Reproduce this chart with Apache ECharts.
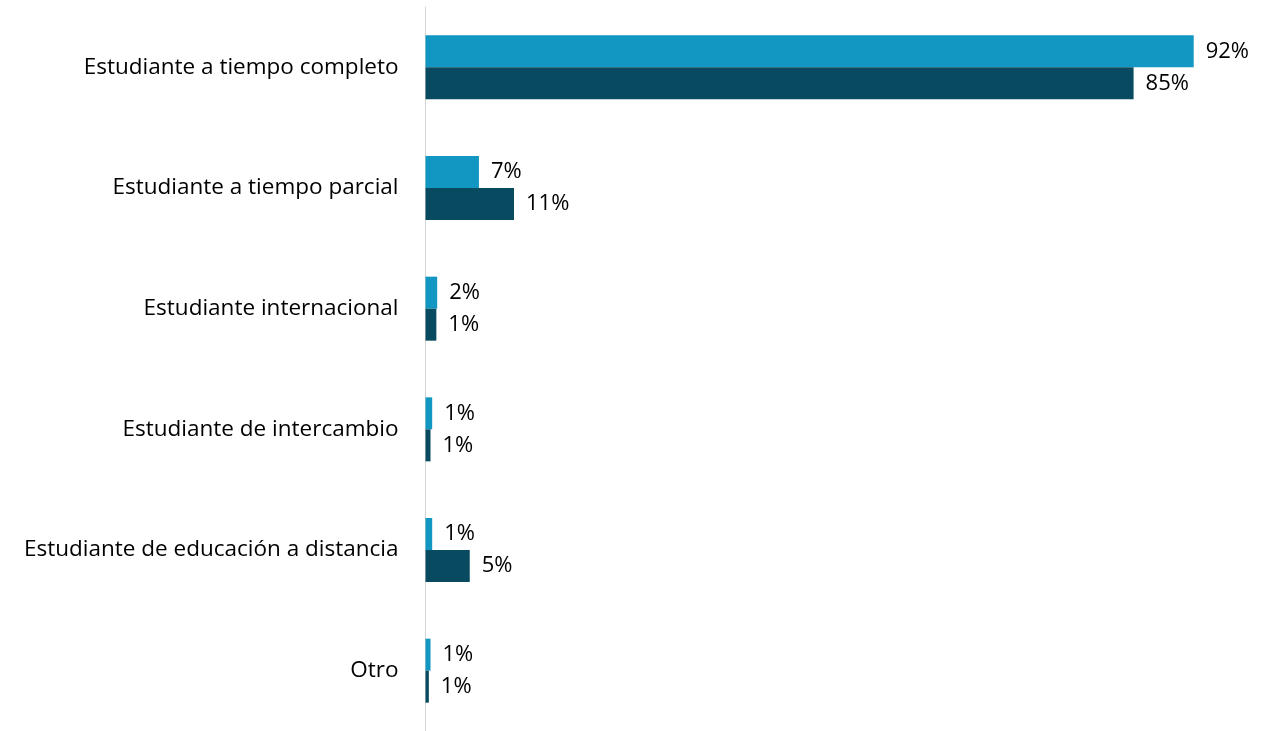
<!DOCTYPE html>
<html><head><meta charset="utf-8">
<script src="https://cdn.jsdelivr.net/npm/echarts@6/dist/echarts.min.js"></script>
<style>html,body{margin:0;padding:0;background:#fff}#c{width:1281px;height:731px}</style>
</head><body><div id="c"></div>
<script>
const categories = ["Estudiante a tiempo completo","Estudiante a tiempo parcial","Estudiante internacional","Estudiante de intercambio","Estudiante de educación a distancia","Otro"];
const seriesA = [92, 6.4, 1.4, 0.8, 0.8, 0.6];
const seriesB = [84.8, 10.6, 1.3, 0.6, 5.3, 0.4];
const labelsA = ["92%","7%","2%","1%","1%","1%"];
const labelsB = ["85%","11%","1%","1%","5%","1%"];
const chart = echarts.init(document.getElementById('c'), null, {renderer:'canvas'});
const font = 'Open Sans';
chart.setOption({
  animation:false,
  grid:{left:425.5, right:20.5, top:7, bottom:-5, containLabel:false},
  xAxis:{type:'value', min:0, max:100, show:false},
  yAxis:{type:'category', data:categories, inverse:true,
    axisLine:{show:true, lineStyle:{color:'#d4d4d4', width:1}},
    axisTick:{show:false},
    axisLabel:{fontFamily:font, fontSize:22.5, color:'#000', margin:27}},
  series:[
    {name:'A', type:'bar', data:seriesA, barWidth:32, barGap:'0%',
     itemStyle:{color:'#1197c1'},
     label:{show:true, position:'right', distance:12, fontFamily:font, fontSize:22, color:'#000',
       formatter:p=>labelsA[p.dataIndex]}},
    {name:'B', type:'bar', data:seriesB, barWidth:32, barGap:'0%',
     itemStyle:{color:'#084b61'},
     label:{show:true, position:'right', distance:12, fontFamily:font, fontSize:22, color:'#000',
       formatter:p=>labelsB[p.dataIndex]}}
  ]
});
</script></body></html>
